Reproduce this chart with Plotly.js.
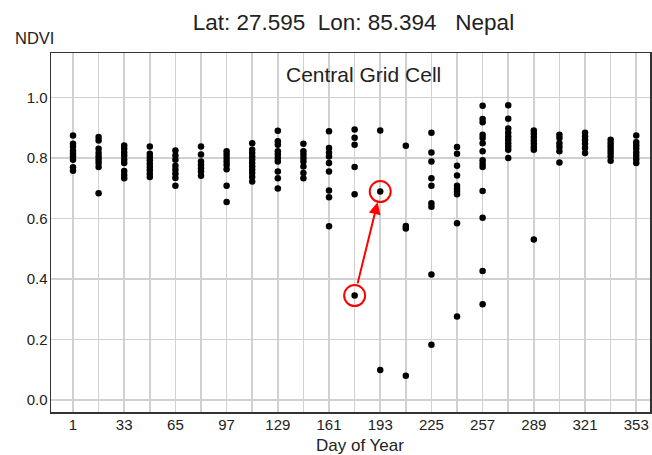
<!DOCTYPE html>
<html>
<head>
<meta charset="utf-8">
<script src="https://cdn.plot.ly/plotly-3.0.1.min.js"></script>
<style>html,body{margin:0;padding:0;background:#fff}#chart{width:652px;height:455px}</style>
</head>
<body>
<div id="chart"></div>
<script>
// Composite days (16-day MODIS composites)
const days = [1,17,33,49,65,81,97,113,129,145,161,177,193,209,225,241,257,273,289,305,321,337,353];
// NDVI observations for each composite day (same order as days)
const ndviByDay = [
  [0.874,0.847,0.837,0.824,0.814,0.805,0.794,0.769,0.758],
  [0.869,0.858,0.830,0.816,0.805,0.794,0.783,0.770,0.683],
  [0.841,0.830,0.818,0.807,0.794,0.783,0.757,0.744,0.733],
  [0.838,0.814,0.803,0.792,0.781,0.770,0.759,0.748,0.737],
  [0.825,0.808,0.794,0.774,0.761,0.748,0.734,0.708],
  [0.838,0.811,0.788,0.777,0.766,0.755,0.741],
  [0.822,0.811,0.800,0.788,0.777,0.763,0.708,0.654],
  [0.849,0.827,0.816,0.805,0.794,0.783,0.772,0.761,0.750,0.737,0.722],
  [0.890,0.855,0.844,0.822,0.811,0.800,0.788,0.755,0.733,0.699],
  [0.847,0.822,0.811,0.800,0.788,0.772,0.750,0.733],
  [0.888,0.833,0.818,0.805,0.783,0.755,0.692,0.670,0.574],
  [0.894,0.867,0.844,0.770,0.680,0.345],
  [0.891,0.689,0.099],
  [0.840,0.575,0.567,0.080],
  [0.883,0.818,0.788,0.733,0.708,0.650,0.639,0.415,0.182],
  [0.836,0.814,0.774,0.742,0.708,0.697,0.689,0.680,0.584,0.276],
  [0.973,0.929,0.918,0.877,0.866,0.849,0.822,0.792,0.781,0.770,0.691,0.602,0.426,0.316],
  [0.974,0.930,0.897,0.883,0.871,0.860,0.849,0.838,0.827,0.800],
  [0.891,0.880,0.869,0.858,0.847,0.836,0.827,0.530],
  [0.877,0.866,0.849,0.836,0.822,0.785],
  [0.883,0.871,0.860,0.847,0.833,0.816],
  [0.860,0.849,0.838,0.827,0.816,0.805,0.791],
  [0.874,0.852,0.841,0.830,0.818,0.807,0.796,0.783]
];
// Highlighted change: [dayIndex, valueIndex]
const highlightFrom = [11, 5];
const highlightTo = [12, 1];

const xs = [], ys = [];
days.forEach((d, i) => ndviByDay[i].forEach(v => { xs.push(d); ys.push(v); }));

const fx = days[highlightFrom[0]], fy = ndviByDay[highlightFrom[0]][highlightFrom[1]];
const tx = days[highlightTo[0]], ty = ndviByDay[highlightTo[0]][highlightTo[1]];

function circle(x, y) {
  return {type:'circle', xref:'x', yref:'y', xsizemode:'pixel', ysizemode:'pixel',
    xanchor:x, yanchor:y, x0:-10.5, x1:10.5, y0:-10.5, y1:10.5,
    line:{color:'#ff0000', width:2}, fillcolor:'rgba(0,0,0,0)'};
}

const font = 'Liberation Sans, Arial, sans-serif';
const layout = {
  width:652, height:455,
  margin:{l:51, r:2, t:53, b:43},
  paper_bgcolor:'#fff', plot_bgcolor:'#fff',
  showlegend:false,
  font:{family:font, color:'#222', size:15},
  title:{text:'Lat: 27.595  Lon: 85.394   Nepal', xref:'container', x:0.542, xanchor:'center', yref:'container', y:0.951, yanchor:'middle', font:{family:font, size:22.5, color:'#222'}},
  xaxis:{
    range:[-12.75, 361.6], tick0:1, dtick:32, tickmode:'linear',
    showgrid:true, gridcolor:'#d0d0d0', gridwidth:1.5,
    minor:{tick0:1, dtick:16, showgrid:true, gridcolor:'#d0d0d0', gridwidth:1.5},
    zeroline:false, showline:true, linecolor:'#333', linewidth:1.5, mirror:true,
    ticks:'', ticklabelstandoff:-2, tickfont:{size:15, color:'#222'}
  },
  yaxis:{
    range:[-0.04, 1.147], tick0:0, dtick:0.2, tickformat:'.1f',
    showgrid:true, gridcolor:'#d0d0d0', gridwidth:1.5,
    zeroline:false, showline:true, linecolor:'#333', linewidth:1.5, mirror:true,
    ticks:'', ticklabelstandoff:-1, tickfont:{size:15, color:'#222'}
  },
  shapes:[circle(fx, fy), circle(tx, ty)],
  annotations:[
    {x:tx, y:ty, ax:fx, ay:fy, axref:'x', ayref:'y', xref:'x', yref:'y', text:'',
     showarrow:true, arrowhead:2, arrowsize:1.2, arrowwidth:2, arrowcolor:'#ff0000', standoff:11, startstandoff:11},
    {text:'Central Grid Cell', xref:'paper', yref:'paper', x:0.522, y:0.94, xanchor:'center', yanchor:'middle', showarrow:false, font:{size:21, color:'#222'}},
    {text:'NDVI', xref:'paper', yref:'paper', x:-0.064, y:1.041, xanchor:'left', yanchor:'middle', showarrow:false, font:{size:16.5, color:'#222'}},
    {text:'Day of Year', xref:'paper', yref:'paper', x:0.516, y:-0.092, xanchor:'center', yanchor:'middle', showarrow:false, font:{size:17, color:'#222'}}
  ]
};

Plotly.newPlot('chart', [{
  type:'scatter', mode:'markers', x:xs, y:ys,
  marker:{color:'#000', size:6.5}, hoverinfo:'x+y'
}], layout, {displayModeBar:false, staticPlot:true});
</script>
</body>
</html>
